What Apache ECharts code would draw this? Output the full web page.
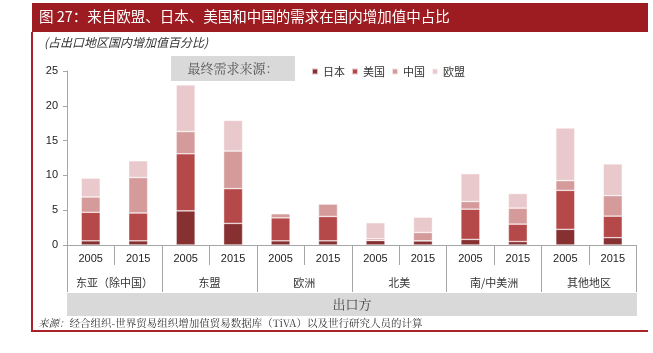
<!DOCTYPE html>
<html>
<head>
<meta charset="utf-8">
<script src="https://cdn.jsdelivr.net/npm/echarts@6/dist/echarts.min.js"></script>
<style>
html,body{margin:0;padding:0;background:#fff;}
#main{width:653px;height:353px;}
</style>
</head>
<body>
<div id="main"></div>
<script>
// 数据
var years = ['2005','2015','2005','2015','2005','2015','2005','2015','2005','2015','2005','2015'];
var regions = ['东亚（除中国）','东盟','欧洲','北美','南/中美洲','其他地区'];
var japan = [0.6, 0.6, 4.9, 3.1, 0.6, 0.6, 0.65, 0.6, 0.8, 0.5, 2.25, 1.05];
var usa   = [4.1, 4.0, 8.2, 5.0, 3.3, 3.5, 0, 0, 4.35, 2.5, 5.6, 3.1];
var china = [2.2, 5.1, 3.2, 5.4, 0.6, 1.8, 0.25, 1.2, 1.1, 2.3, 1.4, 2.95];
var eu    = [2.7, 2.4, 6.7, 4.4, 0, 0, 2.3, 2.2, 4.0, 2.1, 7.55, 4.55];
var yTicks = [0, 25, 5];

var cjk = '"Noto Sans CJK SC", sans-serif';
var serif = '"Noto Serif CJK SC", "Noto Sans CJK SC", serif';

var myChart = echarts.init(document.getElementById('main'));

function bar(name, data, color){
    return {
        name: name, type: 'bar', stack: 'all', data: data,
        barWidth: '40%',
        itemStyle: {color: color, borderColor: 'rgba(255,255,255,0.7)', borderWidth: 0.6}
    };
}

var option = {
    animation: false,
    grid: {left: 67, right: 16.5, top: 71, bottom: 108, containLabel: false},
    legend: {
        left: 306, top: 61, icon: 'rect', itemWidth: 6, itemHeight: 6, itemGap: 6,
        textStyle: {fontFamily: cjk, fontSize: 11, color: '#333'},
        data: ['日本','美国','中国','欧盟']
    },
    xAxis: [
        {
            type: 'category', data: years, position: 'bottom',
            axisLine: {show: true, onZero: false, lineStyle: {color: '#a6a6a6', width: 1}},
            axisTick: {show: true, length: 20, interval: 0, lineStyle: {color: '#a6a6a6'}},
            axisLabel: {interval: 0, margin: 8, fontFamily: 'Liberation Sans, Arial', fontSize: 11, color: '#222'}
        },
        {
            type: 'category', data: regions, position: 'bottom',
            axisLine: {show: false, onZero: false},
            axisTick: {show: true, length: 47, interval: 0, lineStyle: {color: '#a6a6a6'}},
            axisLabel: {interval: 0, margin: 32, fontFamily: cjk, fontSize: 11, color: '#333'}
        }
    ],
    yAxis: {
        type: 'value', min: yTicks[0], max: yTicks[1], interval: yTicks[2],
        splitLine: {show: false},
        axisLine: {show: true, onZero: false, lineStyle: {color: '#a6a6a6'}},
        axisTick: {show: true, length: 4, lineStyle: {color: '#a6a6a6'}},
        axisLabel: {margin: 9, fontFamily: 'Liberation Sans, Arial', fontSize: 11, color: '#222'}
    },
    series: [
        bar('日本', japan, '#873032'),
        bar('美国', usa, '#b5494a'),
        bar('中国', china, '#d59b9b'),
        bar('欧盟', eu, '#e9c9cb')
    ],
    graphic: [
        // 标题栏
        {type: 'rect', shape: {x: 32, y: 3, width: 616, height: 29}, style: {fill: '#9c1c21'}},
        {type: 'text', left: 39, top: 9, style: {text: '图 27：来自欧盟、日本、美国和中国的需求在国内增加值中占比', fill: '#fff', font: '14.5px ' + cjk}},
        // 边框
        {type: 'line', shape: {x1: 32, y1: 32, x2: 32, y2: 331}, style: {stroke: '#a82227', lineWidth: 2}},
        {type: 'line', shape: {x1: 31, y1: 331, x2: 648, y2: 331}, style: {stroke: '#a82227', lineWidth: 2}},
        {type: 'text', left: 44, top: 36, style: {text: '(占出口地区国内增加值百分比)', fill: '#333', font: 'italic 12px ' + cjk}},
        // 图例框
        {type: 'rect', shape: {x: 171, y: 56, width: 124, height: 25}, style: {fill: '#d9d9d9'}},
        {type: 'text', x: 233, y: 68.5, style: {text: '最终需求来源：', fill: '#555', font: '13px ' + serif, align: 'center', verticalAlign: 'middle'}},
        // 出口方
        {type: 'rect', shape: {x: 67, y: 293, width: 570, height: 23}, style: {fill: '#d9d9d9'}},
        {type: 'text', x: 352, y: 304.5, style: {text: '出口方', fill: '#444', font: '13px ' + serif, align: 'center', verticalAlign: 'middle'}},
        // 来源
        {type: 'text', left: 38, top: 318, style: {
            text: '{a|来源：}{b|经合组织-世界贸易组织增加值贸易数据库（TiVA）以及世行研究人员的计算}',
            rich: {
                a: {font: 'italic 10.5px ' + serif, fill: '#333'},
                b: {font: '10.5px ' + serif, fill: '#333'}
            }
        }}
    ]
};

myChart.setOption(option);
</script>
</body>
</html>
